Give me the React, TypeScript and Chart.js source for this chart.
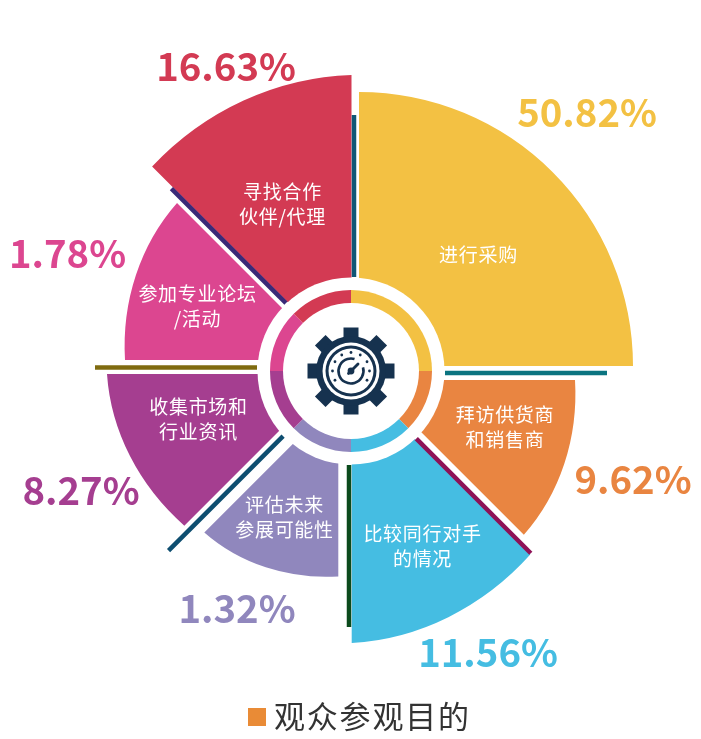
import React, { useEffect, useRef } from "react";
import { Chart, registerables } from "chart.js";

Chart.register(...registerables);

// ---- data ----
const categories = [
  ["进行采购"],
  ["拜访供货商", "和销售商"],
  ["比较同行对手", "的情况"],
  ["评估未来", "参展可能性"],
  ["收集市场和", "行业资讯"],
  ["参加专业论坛", "/活动"],
  ["寻找合作", "伙伴/代理"],
];
const percents = ["50.82%", "9.62%", "11.56%", "1.32%", "8.27%", "1.78%", "16.63%"];
const sectorReach = [274, 212.5, 260, 184, 222, 215.5, 286.5];
const sectorSpan = [90, 45, 45, 45, 45, 45, 45];
const ringReach = [81, 81, 81, 81, 81, 81, 81];
const dividerAngles = [0, 90, 135, 180, 225, 270, 315];
const title = "观众参观目的";

// ---- styling and layout ----
const colors = ["#F3C143", "#E98541", "#45BDE2", "#9087BD", "#A53E90", "#DC4690", "#D33A53"];
const percentColors = ["#F3C143", "#E98541", "#45BDE2", "#9087BD", "#A53E90", "#DC4690", "#D33A53"];
const shiftX = [8, 18, 0.7, -12.7, -15, -17, 0.5];
const shiftY = [-5, 9, 5, 27.4, 3, -11, -5];
const edgeStart = [274, 206, 252.6, 178, 214.5, 209, 282];
const edgeEnd = [274, 219, 267, 189.5, 229, 222, 291];
const dividerColors = ["#0F5676", "#0B7480", "#8E1257", "#0B4A1C", "#0E4E70", "#7F6B10", "#3A2A78"];
const dividerShift = [3, 2, 1.7, 2, 2, 3.5, 2];
const DIVIDER_FROM = 94;
const DIVIDER_TO = 256;
const DISC_R = 93.5;
const HOLE_R = 68;
const percentSpots = [[587, 112], [633, 479], [488, 652], [237, 608], [81, 490], [67.5, 253], [226, 66]];
const labelSpots = [[478, 255], [504.5, 415], [422, 534], [284, 505], [198, 407], [197, 294], [282, 192]];
const LINE_GAP = 25;

function drawGear(ctx: CanvasRenderingContext2D, cx: number, cy: number) {
  const dark = "#16324F";
  ctx.save();
  ctx.translate(cx, cy);
  ctx.fillStyle = dark;
  for (let i = 0; i < 8; i++) {
    ctx.save();
    ctx.rotate((i * Math.PI) / 4);
    ctx.beginPath();
    ctx.moveTo(-7.5, -30);
    ctx.lineTo(-7.5, -43.5);
    ctx.lineTo(7.5, -43.5);
    ctx.lineTo(7.5, -30);
    ctx.closePath();
    ctx.fill();
    ctx.restore();
  }
  const disc = (r: number, c: string) => {
    ctx.fillStyle = c;
    ctx.beginPath();
    ctx.arc(0, 0, r, 0, Math.PI * 2);
    ctx.fill();
  };
  disc(35, dark);
  disc(28.5, "#fff");
  disc(25.5, dark);
  disc(22.5, "#fff");
  ctx.fillStyle = dark;
  for (let i = 0; i < 9; i++) {
    const a = ((-120 + i * 30) * Math.PI) / 180;
    ctx.beginPath();
    ctx.arc(Math.sin(a) * 18.5, -Math.cos(a) * 18.5, 1.4, 0, Math.PI * 2);
    ctx.fill();
  }
  ctx.strokeStyle = dark;
  ctx.lineWidth = 2.6;
  ctx.beginPath();
  ctx.arc(0, 0, 12.5, -Math.PI / 4 + 0.5, -Math.PI / 4 - 0.5 + Math.PI * 2);
  ctx.stroke();
  ctx.lineWidth = 2.8;
  ctx.lineCap = "round";
  ctx.beginPath();
  ctx.moveTo(-2.5, 2.5);
  ctx.lineTo(7, -7);
  ctx.stroke();
  disc(3.4, dark);
  ctx.restore();
}

const overlayPlugin = {
  id: "overlay",
  beforeDatasetDraw(chart: any, args: any) {
    if (args.index !== 1) return;
    const ctx = chart.ctx as CanvasRenderingContext2D;
    const scale = chart.scales.r;
    const cx = scale.xCenter;
    const cy = scale.yCenter;
    // the library's own arcs, each moved off the centre and stretched along its two edges
    args.meta.data.forEach((arc: any, i: number) => {
      const ax = Math.cos(arc.startAngle);
      const ay = Math.sin(arc.startAngle);
      const bx = Math.cos(arc.endAngle);
      const by = Math.sin(arc.endAngle);
      const det = ax * by - bx * ay;
      const r = arc.outerRadius;
      const s0 = edgeStart[i] / r;
      const s1 = edgeEnd[i] / r;
      const t11 = (s0 * ax * by - s1 * bx * ay) / det;
      const t12 = (-s0 * ax * bx + s1 * bx * ax) / det;
      const t21 = (s0 * ay * by - s1 * by * ay) / det;
      const t22 = (-s0 * ay * bx + s1 * by * ax) / det;
      ctx.save();
      ctx.translate(cx + shiftX[i], cy + shiftY[i]);
      ctx.transform(t11, t21, t12, t22, 0, 0);
      ctx.translate(-cx, -cy);
      arc.draw(ctx);
      ctx.restore();
    });
    dividerAngles.forEach((deg, i) => {
      const a = (deg * Math.PI) / 180;
      const dx = Math.sin(a);
      const dy = -Math.cos(a);
      const nx = Math.cos(a) * dividerShift[i];
      const ny = Math.sin(a) * dividerShift[i];
      const r0 = scale.getDistanceFromCenterForValue(DIVIDER_FROM);
      const r1 = scale.getDistanceFromCenterForValue(DIVIDER_TO);
      ctx.save();
      ctx.strokeStyle = dividerColors[i];
      ctx.lineWidth = 4.5;
      ctx.beginPath();
      ctx.moveTo(cx + dx * r0 + nx, cy + dy * r0 + ny);
      ctx.lineTo(cx + dx * r1 + nx, cy + dy * r1 + ny);
      ctx.stroke();
      ctx.restore();
    });
    ctx.save();
    ctx.fillStyle = "#fff";
    ctx.beginPath();
    ctx.arc(cx, cy, scale.getDistanceFromCenterForValue(DISC_R), 0, Math.PI * 2);
    ctx.fill();
    ctx.restore();
    return false;
  },
  afterDatasetsDraw(chart: any) {
    const ctx = chart.ctx as CanvasRenderingContext2D;
    const scale = chart.scales.r;
    const cx = scale.xCenter;
    const cy = scale.yCenter;
    ctx.save();
    ctx.fillStyle = "#fff";
    ctx.beginPath();
    ctx.arc(cx, cy, scale.getDistanceFromCenterForValue(HOLE_R), 0, Math.PI * 2);
    ctx.fill();
    ctx.restore();
    drawGear(ctx, cx, cy);

    ctx.save();
    ctx.textAlign = "center";
    ctx.textBaseline = "middle";
    ctx.font = 'bold 38.3px "Noto Sans CJK SC", sans-serif';
    percents.forEach((p, i) => {
      ctx.fillStyle = percentColors[i];
      ctx.fillText(p, percentSpots[i][0], percentSpots[i][1]);
    });
    ctx.font = '19px "Noto Sans CJK SC", sans-serif';
    (ctx as any).letterSpacing = "0.7px";
    ctx.fillStyle = "#fff";
    categories.forEach((lines, i) => {
      lines.forEach((line, j) => {
        ctx.fillText(line, labelSpots[i][0] + 0.5, labelSpots[i][1] + j * LINE_GAP);
      });
    });
    ctx.fillStyle = "#E98B36";
    ctx.fillRect(248, 708, 18, 18);
    ctx.font = '31px "Noto Sans CJK SC", sans-serif';
    (ctx as any).letterSpacing = "1.8px";
    ctx.fillStyle = "#333333";
    ctx.textAlign = "left";
    ctx.fillText(title, 274, 716);
    ctx.restore();
  },
};

export default function App() {
  const ref = useRef<HTMLCanvasElement>(null);
  useEffect(() => {
    if (!ref.current) return;
    const chart = new Chart(ref.current, {
      type: "polarArea",
      data: {
        labels: categories.map((c) => c.join("")),
        datasets: [
          {
            label: "ring",
            data: ringReach,
            backgroundColor: colors,
            borderWidth: 0,
            angle: sectorSpan,
          } as any,
          {
            label: "sectors",
            data: sectorReach,
            backgroundColor: colors,
            borderWidth: 0,
            angle: sectorSpan,
          } as any,
        ],
      },
      options: {
        animation: false,
        responsive: false,
        layout: { padding: { left: 1, top: 3 } },
        scales: {
          r: { display: false, min: 0, max: 350 },
        },
        plugins: { legend: { display: false }, tooltip: { enabled: false } },
      },
      plugins: [overlayPlugin],
    } as any);
    return () => chart.destroy();
  }, []);
  return (
    <div style={{ position: "absolute", left: 0, top: 0, width: 701, height: 739, background: "#fff" }}>
      <canvas ref={ref} width={701} height={739} style={{ display: "block" }} />
    </div>
  );
}
